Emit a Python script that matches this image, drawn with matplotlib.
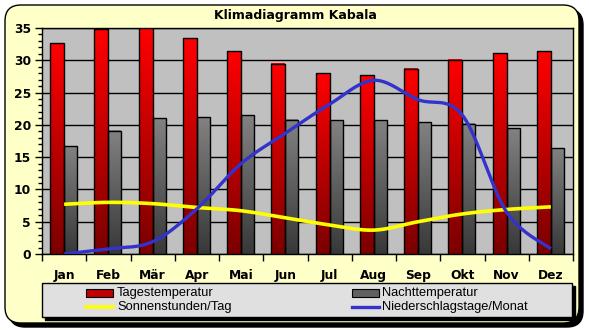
import numpy as np
import matplotlib
matplotlib.use("Agg")
import matplotlib.pyplot as plt
from matplotlib.patches import FancyBboxPatch, Rectangle
from matplotlib.colors import LinearSegmentedColormap
from matplotlib.ticker import MultipleLocator, FixedLocator, NullFormatter

months = ['Jan', 'Feb', 'Mär', 'Apr', 'Mai', 'Jun', 'Jul', 'Aug', 'Sep', 'Okt', 'Nov', 'Dez']
tagestemp = [32.6, 34.8, 35.0, 33.4, 31.4, 29.5, 28.0, 27.7, 28.7, 30.1, 31.1, 31.4]
nachttemp = [16.7, 19.1, 21.0, 21.2, 21.5, 20.8, 20.7, 20.7, 20.4, 20.2, 19.5, 16.4]
sonne = [7.7, 8.0, 7.8, 7.2, 6.7, 5.6, 4.5, 3.7, 5.0, 6.2, 6.9, 7.3]
regen = [0.0, 0.8, 1.9, 7.0, 14.0, 18.7, 23.2, 26.9, 23.9, 21.5, 6.5, 0.8]
title = 'Klimadiagramm Kabala'

W, H = 589, 330
fig = plt.figure(figsize=(W / 100, H / 100), dpi=100)
fig.patch.set_facecolor('white')

# background axes in pixel coords
bg = fig.add_axes([0, 0, 1, 1], zorder=0)
bg.set_xlim(0, W)
bg.set_ylim(H, 0)
bg.axis('off')

# chart area rounded box with shadow
bg.add_patch(FancyBboxPatch((9, 9), 574, 318, boxstyle='round,pad=0,rounding_size=16',
                            facecolor='black', edgecolor='black', lw=1))
bg.add_patch(FancyBboxPatch((5, 5), 574, 318, boxstyle='round,pad=0,rounding_size=16',
                            facecolor='#ffffc8', edgecolor='black', lw=1))

fig.text(295 / W, 1 - 16 / H, title, ha='center', va='center',
         fontsize=9, fontweight='bold', family='DejaVu Sans')

# main axes
ax = fig.add_axes([42 / W, (H - 254) / H, 531 / W, 226 / H], zorder=1)
ax.set_facecolor('#c0c0c0')
n = len(months)
x = np.arange(n) + 0.5
wr = 14 / 44.25
wg = 13 / 44.25

red_cmap = LinearSegmentedColormap.from_list('r', ['#7a0000', '#ff0000'])
gray_cmap = LinearSegmentedColormap.from_list('g', ['#383838', '#828282'])
grad = np.linspace(0, 1, 256).reshape(-1, 1)

bars_r = ax.bar(x - wr / 2, tagestemp, width=wr, facecolor='none', edgecolor='black', lw=1, zorder=4)
bars_g = ax.bar(x + wg / 2, nachttemp, width=wg, facecolor='none', edgecolor='black', lw=1, zorder=4)
for bars, cm in ((bars_r, red_cmap), (bars_g, gray_cmap)):
    for r in bars:
        x0, w, h = r.get_x(), r.get_width(), r.get_height()
        ax.imshow(grad, extent=[x0, x0 + w, 0, h], origin='lower', cmap=cm,
                  aspect='auto', zorder=3, interpolation='bilinear')


def catmull(xs, ys, k=20):
    xs = np.asarray(xs, float)
    ys = np.asarray(ys, float)
    P = np.column_stack([xs, ys])
    P = np.vstack([P[0], P, P[-1]])
    out = []
    for i in range(1, len(P) - 2):
        p0, p1, p2, p3 = P[i - 1], P[i], P[i + 1], P[i + 2]
        t = np.linspace(0, 1, k, endpoint=False)[:, None]
        m1 = (p2 - p0) / 2
        m2 = (p3 - p1) / 2
        h00 = 2 * t**3 - 3 * t**2 + 1
        h10 = t**3 - 2 * t**2 + t
        h01 = -2 * t**3 + 3 * t**2
        h11 = t**3 - t**2
        out.append(h00 * p1 + h10 * m1 + h01 * p2 + h11 * m2)
    out.append(P[-2][None, :])
    out = np.vstack(out)
    return out[:, 0], out[:, 1]


sx, sy = catmull(x, sonne)
rx, ry = catmull(x, regen)
ax.plot(sx, sy, color='#ffff00', lw=2.6, zorder=5, solid_capstyle='butt')
ax.plot(rx, ry, color='#3333cc', lw=2.4, zorder=6, solid_capstyle='butt')

ax.set_xlim(0, n)
ax.set_ylim(0, 35)
ax.yaxis.set_major_locator(MultipleLocator(5))
ax.yaxis.set_minor_locator(MultipleLocator(1))
ax.grid(axis='y', which='major', color='black', lw=1, zorder=1)
ax.set_axisbelow(True)
ax.xaxis.set_major_locator(FixedLocator(np.arange(0, n + 1)))
ax.xaxis.set_major_formatter(NullFormatter())
ax.xaxis.set_minor_locator(FixedLocator(x))
ax.set_xticklabels(months, minor=True)
ax.tick_params(axis='x', which='major', direction='out', length=5, width=1, color='black')
ax.tick_params(axis='x', which='minor', length=0, pad=11, labelsize=8.8)
ax.tick_params(axis='y', which='major', direction='out', length=5, width=1, pad=3, labelsize=8.8)
ax.tick_params(axis='y', which='minor', direction='out', length=3, width=1)
for lab in ax.get_xticklabels(minor=True) + ax.get_yticklabels():
    lab.set_fontweight('bold')
    lab.set_family('DejaVu Sans')
for s in ax.spines.values():
    s.set_color('black')
    s.set_linewidth(1)

# legend box
bg.add_patch(Rectangle((45, 286), 530, 34, facecolor='black', edgecolor='black', lw=1, zorder=2))
bg.add_patch(Rectangle((42, 283), 530, 34, facecolor='#e0e0e0', edgecolor='black', lw=1, zorder=3))
bg.add_patch(Rectangle((86, 289), 27, 8, facecolor='#c00000', edgecolor='black', lw=0.8, zorder=4))
bg.add_patch(Rectangle((352, 289), 27, 8, facecolor='#606060', edgecolor='black', lw=0.8, zorder=4))
bg.plot([86, 113], [307, 307], color='#ffff00', lw=2.6, zorder=4)
bg.plot([352, 379], [307, 307], color='#3333cc', lw=2.4, zorder=4)
labels = [('Tagestemperatur', 117, 293), ('Sonnenstunden/Tag', 117, 307),
          ('Nachttemperatur', 382, 293), ('Niederschlagstage/Monat', 382, 307)]
for t, lx, ly in labels:
    bg.text(lx, ly, t, ha='left', va='center', fontsize=9.3, family='Liberation Sans', zorder=5)

fig.savefig('out.png', dpi=100, facecolor='white')
